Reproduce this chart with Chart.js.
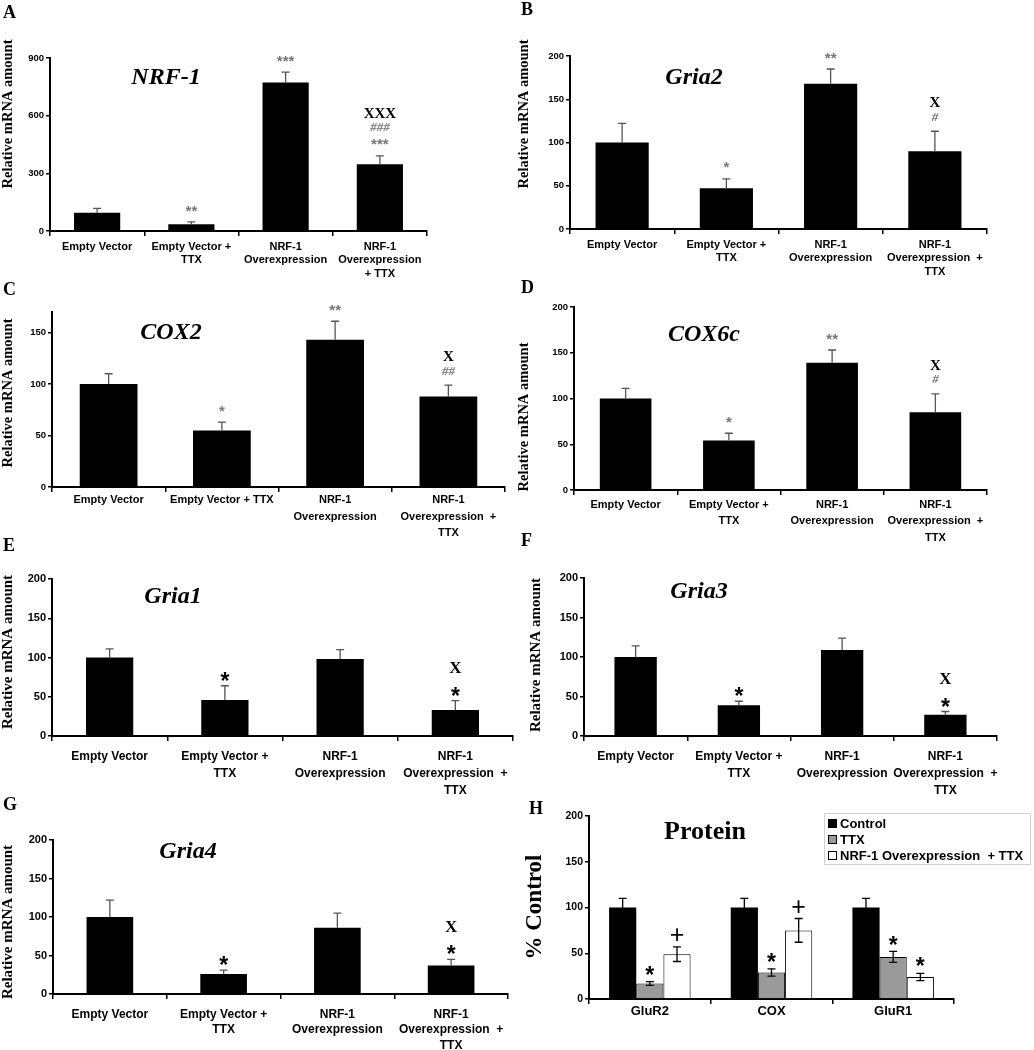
<!DOCTYPE html>
<html>
<head>
<meta charset="utf-8">
<script src="https://cdn.jsdelivr.net/npm/chart.js@4.4.1/dist/chart.umd.min.js"></script>
<style>
html,body{margin:0;padding:0;background:#fff;}
#fig{position:relative;width:1034px;height:1050px;overflow:hidden;background:#fff;}
#fig canvas{position:absolute;}
</style>
</head>
<body>
<div id="fig"></div>
<script>
// --- Data ---
const labelsA = [['Empty Vector'], ['Empty Vector +','TTX'], ['NRF-1','Overexpression'], ['NRF-1','Overexpression','+ TTX']];
const labelsStd = [['Empty Vector'], ['Empty Vector +','TTX'], ['NRF-1','Overexpression'], ['NRF-1','Overexpression  +','TTX']];
const labelsC = [['Empty Vector'], ['Empty Vector + TTX'], ['NRF-1','Overexpression'], ['NRF-1','Overexpression  +','TTX']];

const nrf1Mean = [95, 35, 772, 347];
const nrf1Err  = [23, 12, 55, 44];
const gria2Mean = [100, 47, 168, 90];
const gria2Err  = [22, 11, 17, 23];
const cox2Mean = [100, 55, 143, 88];
const cox2Err  = [10, 8, 18, 11];
const cox6cMean = [100, 54, 139, 85];
const cox6cErr  = [11, 8, 14, 20];
const gria1Mean = [100, 46, 98, 33];
const gria1Err  = [11, 18, 12, 12];
const gria3Mean = [100, 39, 109, 27];
const gria3Err  = [14, 5, 15, 4];
const gria4Mean = [100, 26, 86, 37];
const gria4Err  = [22, 5, 19, 8];

const proteinCats = ['GluR2', 'COX', 'GluR1'];
const ctrlMean = [100, 100, 100];
const ctrlErr  = [10, 10, 10];
const ttxMean = [17, 29, 46];
const ttxErr  = [2, 4, 6];
const nrfTtxMean = [49, 75, 24];
const nrfTtxErr  = [8, 13, 4];

// significance marks per bar, listed top-down
const marksA = [[], ['**'], ['***'], ['XXX','###','***']];
const marksB = [[], ['*'], ['**'], ['X','#']];
const marksC = [[], ['*'], ['**'], ['X','##']];
const marksD = [[], ['*'], ['**'], ['X','#']];
const marksEFG = [[], ['*'], [], ['X','*']];
const ttxMarks = [['*'], ['*'], ['*']];
const nrfTtxMarks = [['+'], ['+'], ['*']];

// --- Styles ---
const SANS = "'Liberation Sans', Arial, sans-serif";
const SERIF = "'Liberation Serif', 'Times New Roman', serif";
const symSmall = {
  '*': {style:'bold', size:15, family:SANS, color:'#777', k:.57},
  '#': {style:'italic bold', size:13, family:SERIF, color:'#777', k:.34},
  'X': {style:'bold', size:15, family:SERIF, color:'#000', k:.33}
};
const symLarge = {
  '*': {style:'bold', size:23, family:SANS, color:'#000', k:.57},
  'X': {style:'bold', size:17, family:SERIF, color:'#000', k:.33},
  '+': {style:'normal', size:25, family:SANS, color:'#000', k:.345}
};

const fig = document.getElementById('fig');

function makePanel(p){
  const [bx,by,bw,bh] = p.box, [al,at,ar,ab] = p.area;
  const cv = document.createElement('canvas');
  cv.width = bw; cv.height = bh;
  cv.style.left = bx+'px'; cv.style.top = by+'px';
  fig.appendChild(cv);
  const sym = p.big ? symLarge : symSmall;

  const decor = {
    id: 'decor',
    afterDatasetsDraw(chart){
      const ctx = chart.ctx, ys = chart.scales.y;
      ctx.save();
      p.series.forEach((s,d)=>{
        chart.getDatasetMeta(d).data.forEach((bar,j)=>{
          const x = bar.x, top = ys.getPixelForValue(s.mean[j]+s.err[j]);
          const bot = p.twoSided ? ys.getPixelForValue(s.mean[j]-s.err[j]) : bar.y;
          ctx.strokeStyle = p.errColor; ctx.lineWidth = 1.3;
          ctx.beginPath();
          ctx.moveTo(x,bot); ctx.lineTo(x,top);
          ctx.moveTo(x-p.cap,top); ctx.lineTo(x+p.cap,top);
          if(p.twoSided){ ctx.moveTo(x-p.cap,bot); ctx.lineTo(x+p.cap,bot); }
          ctx.stroke();
          // marks stacked upward from the error bar top
          const marks = (s.marks||[])[j]||[];
          let cy = top - p.gap;
          marks.slice().reverse().forEach(m=>{
            const st = sym[m[0]];
            ctx.font = `${st.style} ${st.size}px ${st.family}`;
            ctx.fillStyle = st.color; ctx.textAlign = 'center'; ctx.textBaseline = 'alphabetic';
            ctx.fillText(m, x, cy + st.k*st.size);
            cy -= p.markStep;
          });
        });
      });
      ctx.restore();
    },
    afterDraw(chart){
      const ctx = chart.ctx;
      ctx.save();
      ctx.fillStyle = '#000';
      // panel letter
      ctx.font = `bold 18px ${SERIF}`;
      ctx.textAlign = 'left'; ctx.textBaseline = 'middle';
      ctx.fillText(p.letter, p.letterAt[0]-bx, p.letterAt[1]-by);
      // gene / panel title
      ctx.font = p.titleFont;
      ctx.textAlign = 'center';
      ctx.fillText(p.title, p.titleAt[0]-bx, p.titleAt[1]-by);
      // y axis title
      ctx.translate(p.yTitleAt[0]-bx, p.yTitleAt[1]-by);
      ctx.rotate(-Math.PI/2);
      ctx.font = p.yTitleFont;
      ctx.fillText(p.yTitle, 0, 0);
      ctx.restore();
      if(p.legend){
        const L = p.legend;
        ctx.save();
        ctx.strokeStyle = '#d0d0d0'; ctx.lineWidth = 1;
        ctx.strokeRect(L.x-bx+.5, L.y-by+.5, L.w, L.h);
        ctx.font = `bold 13px ${SANS}`; ctx.textAlign = 'left'; ctx.textBaseline = 'middle';
        chart.data.datasets.forEach((ds,i)=>{
          const yy = L.y-by + L.first + i*L.step;
          ctx.fillStyle = ds.backgroundColor;
          ctx.fillRect(L.x-bx+4, yy-4, 9, 9);
          ctx.strokeStyle = '#000'; ctx.strokeRect(L.x-bx+4.5, yy-3.5, 8, 8);
          ctx.fillStyle = '#000';
          ctx.fillText(ds.label, L.x-bx+16, yy+1);
        });
        ctx.restore();
      }
    }
  };

  new Chart(cv, {
    type: 'bar',
    data: {
      labels: p.labels,
      datasets: p.series.map(s=>({
        label: s.label || '', data: s.mean,
        backgroundColor: s.color, borderColor: '#000', borderWidth: s.border||0,
        categoryPercentage: p.catPct, barPercentage: p.barPct
      }))
    },
    options: {
      responsive: false, animation: false, events: [],
      layout: { padding: { left: 0, top: at-by, right: bx+bw-ar, bottom: 0 } },
      plugins: { legend: { display: false }, tooltip: { enabled: false } },
      scales: {
        x: {
          offset: true,
          grid: { offset: true, drawOnChartArea: false, tickLength: 5, color: '#000', lineWidth: 1.5 },
          border: { color: '#000', width: 2 },
          ticks: { color: '#000', font: { family: SANS, size: p.xFont, weight: 'bold', lineHeight: p.xLH }, padding: p.xPad, maxRotation: 0, autoSkip: false },
          afterFit: s=>{ s.height = by+bh-ab; }
        },
        y: {
          min: 0, max: p.max,
          grid: { drawOnChartArea: false, tickLength: 4, color: '#000', lineWidth: 1.5 },
          border: { color: '#000', width: 2 },
          ticks: { stepSize: p.step, includeBounds: false, color: '#000', padding: 2, font: { family: SANS, size: p.yFont, weight: 'bold' } },
          afterFit: s=>{ s.width = al-bx; }
        }
      }
    },
    plugins: [decor]
  });
}

const geneFont = `italic bold 24px ${SERIF}`;
const yFontSmall = `bold 14.5px ${SERIF}`;
const smallPanel = { max: 200, step: 50, yFont: 9.5, xFont: 11, xLH: 1.2, xPad: 4.5, big: false, cap: 4, gap: 15, markStep: 14, errColor: '#555', catPct: 1, titleFont: geneFont, yTitle: 'Relative mRNA amount', yTitleFont: yFontSmall };
const bigPanel = { max: 200, step: 50, yFont: 11, xFont: 12, xLH: 1.4, xPad: 7.5, big: true, cap: 4, gap: 10, markStep: 23, errColor: '#555', catPct: 1, barPct: .41, titleFont: geneFont, yTitle: 'Relative mRNA amount', yTitleFont: `bold 15px ${SERIF}` };

const panels = [
  Object.assign({}, smallPanel, { letter:'A', box:[0,0,517,292], area:[50,58,427,231], max:900, step:300, barPct:.49,
    labels: labelsA, series:[{mean:nrf1Mean, err:nrf1Err, color:'#000', marks:marksA}],
    title:'NRF-1', titleAt:[166,78], letterAt:[3,13], yTitleAt:[8,114] }),
  Object.assign({}, smallPanel, { letter:'B', box:[517,0,517,292], area:[570,56,987,229], barPct:.51,
    labels: labelsStd, series:[{mean:gria2Mean, err:gria2Err, color:'#000', marks:marksB}],
    title:'Gria2', titleAt:[694,78], letterAt:[521,10], yTitleAt:[524,114] }),
  Object.assign({}, smallPanel, { letter:'C', box:[0,270,517,292], area:[52,312,505,487], max:170, barPct:.51, xLH:1.5, xPad:0,
    labels: labelsC, series:[{mean:cox2Mean, err:cox2Err, color:'#000', marks:marksC}],
    title:'COX2', titleAt:[171,333], letterAt:[3,290], yTitleAt:[8,393] }),
  Object.assign({}, smallPanel, { letter:'D', box:[517,270,517,292], area:[574,307,987,490], barPct:.5, xLH:1.5, xPad:1.5,
    labels: labelsStd, series:[{mean:cox6cMean, err:cox6cErr, color:'#000', marks:marksD}],
    title:'COX6c', titleAt:[704,335], letterAt:[521,288], yTitleAt:[524,417] }),
  Object.assign({}, bigPanel, { letter:'E', box:[0,530,517,292], area:[52,579,513,736],
    labels: labelsStd, series:[{mean:gria1Mean, err:gria1Err, color:'#000', marks:marksEFG}],
    title:'Gria1', titleAt:[173,597], letterAt:[3,546], yTitleAt:[8,652] }),
  Object.assign({}, bigPanel, { letter:'F', box:[517,530,517,292], area:[584,578,997,736],
    labels: labelsStd, series:[{mean:gria3Mean, err:gria3Err, color:'#000', marks:marksEFG}],
    title:'Gria3', titleAt:[699,592], letterAt:[521,541], yTitleAt:[536,655] }),
  Object.assign({}, bigPanel, { letter:'G', box:[0,790,517,260], area:[53,840,508,994], xLH:1.3,
    labels: labelsStd, series:[{mean:gria4Mean, err:gria4Err, color:'#000', marks:marksEFG}],
    title:'Gria4', titleAt:[188,852], letterAt:[3,805], yTitleAt:[8,922] }),
  Object.assign({}, bigPanel, { letter:'H', box:[517,790,517,260], area:[589,816,954,999],
    xFont:13, xLH:1.2, xPad:0, yFont:10.5, catPct:.67, barPct:1, twoSided:true, errColor:'#000', gap:12,
    labels: proteinCats,
    series:[
      {label:'Control', mean:ctrlMean, err:ctrlErr, color:'#000'},
      {label:'TTX', mean:ttxMean, err:ttxErr, color:'#9a9a9a', border:1, marks:ttxMarks},
      {label:'NRF-1 Overexpression  + TTX', mean:nrfTtxMean, err:nrfTtxErr, color:'#fff', border:1, marks:nrfTtxMarks}
    ],
    title:'Protein', titleFont:`bold 26px ${SERIF}`, titleAt:[705,832], letterAt:[529,809],
    yTitle:'% Control', yTitleFont:`bold 23px ${SERIF}`, yTitleAt:[535,907],
    legend:{x:824, y:813, w:206, h:51, first:10, step:16} })
];

panels.forEach(makePanel);
</script>
</body>
</html>
